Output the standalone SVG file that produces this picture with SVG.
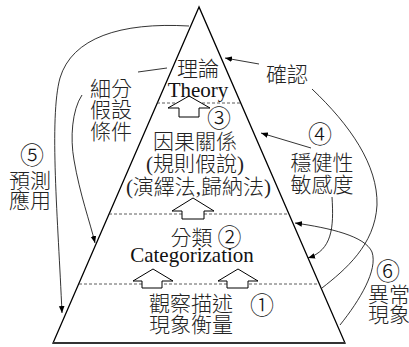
<svg xmlns="http://www.w3.org/2000/svg" width="409" height="347" viewBox="0 0 409 347">
<defs>
<style>
.cjk{font-family:"Noto Sans CJK TC","Noto Sans CJK SC",sans-serif;font-size:21px;fill:#222;font-weight:300}
.ser{font-family:"Liberation Serif","Noto Sans CJK TC",serif;font-size:21px;fill:#111}
.mix{font-family:"Liberation Serif","Noto Sans CJK TC",serif;font-size:21px;fill:#222;font-weight:300}
.num{font-family:"Noto Sans CJK TC",sans-serif;font-size:24px;fill:#111;font-weight:300}
.c{text-anchor:middle}
.edge{fill:none;stroke:#000;stroke-width:0.8}
.dash{stroke:#333;stroke-width:0.8;stroke-dasharray:3 2}
.blk{fill:#fff;stroke:#000;stroke-width:1}
</style>
<marker id="ah" viewBox="0 0 10 10" refX="10" refY="5" markerWidth="7" markerHeight="7" markerUnits="userSpaceOnUse" orient="auto">
<path d="M0,1 L10,5 L0,9 z" fill="#000"/>
</marker>
</defs>
<rect width="409" height="347" fill="#fff"/>

<g id="pyramid">
<polygon points="199,7 53,343 345,343" fill="none" stroke="#000" stroke-width="1.3"/>
<line x1="53" y1="343" x2="345" y2="343" stroke="#333" stroke-width="2"/>
<line class="dash" x1="157" y1="103" x2="241" y2="103"/>
<line class="dash" x1="109" y1="214" x2="289" y2="214"/>
<line class="dash" x1="79" y1="284" x2="319" y2="284"/>
</g>

<g id="arrow-up-3">
<path class="blk" d="M189,96 L210,108 L199,108 L199,117 L179,117 L179,108 L168,108 Z"/>
</g>
<g id="arrow-up-2">
<path class="blk" d="M193,198 L214,211 L204,211 L204,219 L182,219 L182,211 L172,211 Z"/>
</g>
<g id="arrow-up-1a">
<path class="blk" d="M153,269 L173,281 L162,281 L162,288 L142,288 L142,281 L133,281 Z"/>
</g>
<g id="arrow-up-1b">
<path class="blk" d="M238,269 L258,281 L248,281 L248,288 L227,288 L227,281 L218,281 Z"/>
</g>

<g id="theory">
<text class="cjk c" x="198" y="76">理論</text>
<text class="ser c" x="198" y="97">Theory</text>
</g>
<g id="causal">
<text class="num c" x="219" y="127">③</text>
<text class="cjk c" x="195" y="149">因果關係</text>
<text class="mix c" x="195" y="170.5">(規則假說)</text>
<text class="mix c" x="198.5" y="194">(演繹法,歸納法)</text>
</g>
<g id="categorization">
<text class="cjk c" x="191.5" y="244.5">分類</text>
<text class="num c" x="229.5" y="245.5">②</text>
<text class="ser c" x="192" y="262">Categorization</text>
</g>
<g id="observation">
<text class="cjk c" x="191" y="311">觀察描述</text>
<text class="cjk c" x="191" y="331.5">現象衡量</text>
<text class="num c" x="262" y="314">①</text>
</g>
<g id="subdivide">
<text class="cjk c" x="111" y="95.5">細分</text>
<text class="cjk c" x="111" y="117">假設</text>
<text class="cjk c" x="111" y="139">條件</text>
</g>
<g id="predict">
<text class="num c" x="32" y="164">⑤</text>
<text class="cjk c" x="30" y="188">預測</text>
<text class="cjk c" x="30" y="208">應用</text>
</g>
<g id="confirm">
<text class="cjk c" x="287" y="82">確認</text>
</g>
<g id="robust">
<text class="num c" x="320" y="143">④</text>
<text class="cjk c" x="322" y="170">穩健性</text>
<text class="cjk c" x="322" y="192">敏感度</text>
</g>
<g id="anomaly">
<text class="num c" x="388" y="280">⑥</text>
<text class="cjk c" x="389" y="301.5">異常</text>
<text class="cjk c" x="389" y="322">現象</text>
</g>

<g id="connectors">
<path class="edge" d="M259,64 L225,58" marker-end="url(#ah)"/>
<path class="edge" d="M311,148 L261,133" marker-end="url(#ah)"/>
<path class="edge" d="M138,72 L167,68"/>
<path class="edge" d="M189,26 C120,22 72,38 60,78 C49,118 58,220 62,313" marker-end="url(#ah)"/>
<path class="edge" d="M82,95 C72,110 70,138 74,160 C80,195 90,222 95,243" marker-end="url(#ah)"/>
<path class="edge" d="M312,89 C350,125 378,165 377,205 C375,245 345,270 322,288"/>
<path class="edge" d="M332,197 C334,228 332,250 308,258" marker-end="url(#ah)"/>
<path class="edge" d="M340,325 C360,300 378,270 372,252 C365,236 330,228 295,223" marker-end="url(#ah)"/>
</g>
</svg>
